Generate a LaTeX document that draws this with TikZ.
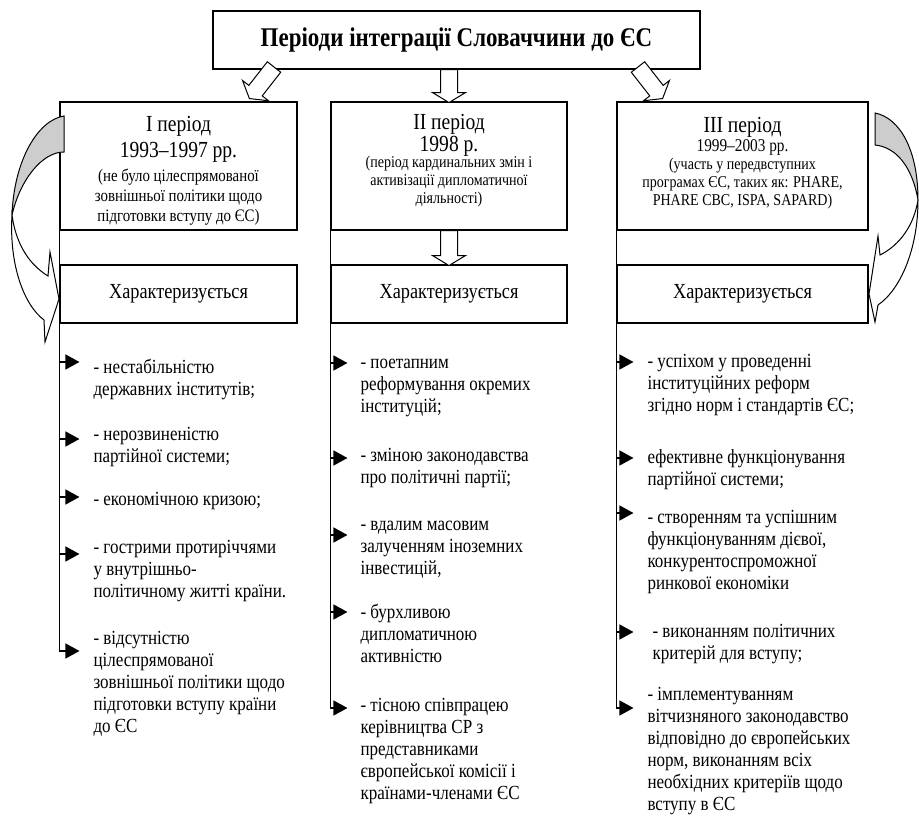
\documentclass[tikz,border=0pt]{standalone}
\usepackage{fontspec}
\setmainfont{Liberation Serif}[FakeStretch=0.85]
\usetikzlibrary{arrows.meta}
\definecolor{ribbon}{RGB}{205,205,205}
\newcommand{\perhead}{\fontsize{23}{25}\selectfont}
% block arrow: tail, direction, length
\newcommand{\fatarrow}[3]{%
  \begin{scope}[shift={#1},rotate=#2]
    \draw[fat arrow] (0,-8.5) -- (#3-10,-8.5) -- (#3-10,-16.5) -- (#3,0)
      -- (#3-10,16.5) -- (#3-10,8.5) -- (0,8.5) -- cycle;
  \end{scope}}

\begin{document}
\begin{tikzpicture}[x=1pt,y=-1pt,line width=1.1pt,node distance=128pt,
    bullet/.style={-{Triangle[length=14pt,width=15pt]},line width=1.4pt},
    box/.style={draw,fill=white,inner sep=0pt,align=center},
    title node/.style={box,minimum width=487pt,minimum height=58pt,
      font=\fontsize{27}{30}\selectfont\bfseries},
    period node/.style={box,minimum height=128pt},
    period text/.style={inner sep=0pt,align=center,font=\fontsize{16.5}{18}\selectfont},
    char node/.style={box,minimum height=58pt,font=\fontsize{21.5}{24}\selectfont},
    item node/.style={anchor=north west,inner sep=0pt,align=left,
      font=\fontsize{20}{22}\selectfont,execute at begin node=\strut},
    fat arrow/.style={draw,fill=white,line width=1pt}]

    \useasboundingbox (0,0) rectangle (919,816);

    \node[title node] (title) at (456.5,40) {Періоди інтеграції Словаччини до ЄС};

    \node[period node,minimum width=237pt] (p1) at (178.5,166) {};
    \node[period node,minimum width=236pt] (p2) at (449,166) {};
    \node[period node,minimum width=251pt] (p3) at (742.5,166) {};
    \node[period text,font=\fontsize{17.5}{20}\selectfont] (p1t) at ([yshift=-4.5pt]p1.center)
      {{\perhead I період}\\[5pt]{\perhead 1993–1997 рр.}\\[4pt](не було цілеспрямованої\\зовнішньої політики щодо\\підготовки вступу до ЄС)};
    \node[period text] (p2t) at ([yshift=5pt]p2.center)
      {{\perhead II період}\\[1pt]{\perhead 1998 р.}\\[-2pt](період кардинальних змін і\\активізації дипломатичної\\діяльності)};
    \node[period text] (p3t) at ([yshift=3pt]p3.center)
      {{\perhead III період}\\[1pt]{\fontsize{18}{20}\selectfont 1999–2003 рр.}\\(участь у передвступних\\програмах ЄС, таких як: PHARE,\\PHARE CBC, ISPA, SAPARD)};

    % side lines with bullets
    \draw (p1.south west) -- (p1.south west |- 0,651);
    \draw (p2.south west) -- (p2.south west |- 0,708);
    \draw (p3.south west) -- (p3.south west |- 0,708);
    \foreach \y in {362,439,497,554,651}
      \draw[bullet] (p1.south west |- 0,\y) -- ++(20,0);
    \foreach \y in {363,458,535,612,708}
      \draw[bullet] (p2.south west |- 0,\y) -- ++(17,0);
    \foreach \y in {362,458,513,632,708}
      \draw[bullet] (p3.south west |- 0,\y) -- ++(17,0);

    \node[char node,minimum width=237pt,below of=p1] (c1) {Характеризується};
    \node[char node,minimum width=236pt,below of=p2] (c2) {Характеризується};
    \node[char node,minimum width=251pt,below of=p3] (c3) {Характеризується};

    \node[item node] (i11) at (93,358.75) {- нестабільністю\\державних інститутів;};
    \node[item node] (i12) at (93,426.75) {- нерозвиненістю\\партійної системи;};
    \node[item node] (i13) at (93,489.75) {- економічною кризою;};
    \node[item node] (i14) at (93,539.75) {- гострими протиріччями\\у внутрішньо-\\політичному житті країни.};
    \node[item node] (i15) at (93,630.75) {- відсутністю\\цілеспрямованої\\зовнішньої політики щодо\\підготовки вступу країни\\до ЄС};

    \node[item node] (i21) at (360,358.75) {- поетапним\\реформування окремих\\інституцій;};
    \node[item node] (i22) at (360,447.75) {- зміною законодавства\\про політичні партії;};
    \node[item node] (i23) at (360,520.75) {- вдалим масовим\\залученням іноземних\\інвестицій,};
    \node[item node] (i24) at (360,603.75) {- бурхливою\\дипломатичною\\активністю};
    \node[item node] (i25) at (360,697.75) {- тісною співпрацею\\керівництва СР з\\представниками\\європейської комісії і\\країнами-членами ЄС};

    \node[item node] (i31) at (647,353.75) {- успіхом у проведенні\\інституційних реформ\\згідно норм і стандартів ЄС;};
    \node[item node] (i32) at (647,448.75) {ефективне функціонування\\партійної системи;};
    \node[item node] (i33) at (647,509.75) {- створенням та успішним\\функціонуванням дієвої,\\конкурентоспроможної\\ринкової економіки};
    \node[item node] (i34) at (652,623.75) {- виконанням політичних\\критерій для вступу;};
    \node[item node] (i35) at (647,686.75) {- імплементуванням\\вітчизняного законодавство\\відповідно до європейських\\норм, виконанням всіх\\необхідних критеріїв щодо\\вступу в ЄС};

    % block arrows
    \fatarrow{(274,67)}{-128}{40}
    \fatarrow{(p2.north |- title.south)}{-90}{33}
    \fatarrow{(638,67)}{-52}{40}
    \fatarrow{(p2.south)}{-90}{35}

    % curved arrows
    \draw[fill=ribbon,line width=1pt] (64,116) .. controls (38,120) and (14,160) .. (12,215)
      .. controls (20,180) and (42,152) .. (64,152) -- cycle;
    \draw[fill=white,line width=1pt] (12,215) .. controls (9,265) and (24,305) .. (44,320)
      -- (45,342) -- (59,299) -- (50,252) -- (48,276)
      .. controls (30,265) and (16,245) .. (12,215) -- cycle;
    \draw[fill=ribbon,line width=1pt] (875,113) .. controls (900,118) and (918,150) .. (918,200)
      .. controls (912,165) and (895,147) .. (875,145) -- cycle;
    \draw[fill=white,line width=1pt] (918,200) .. controls (918,250) and (900,290) .. (878,305)
      -- (875,322) -- (869,294) -- (878,236) -- (880,255)
      .. controls (900,245) and (914,225) .. (918,200) -- cycle;
\end{tikzpicture}
\end{document}
